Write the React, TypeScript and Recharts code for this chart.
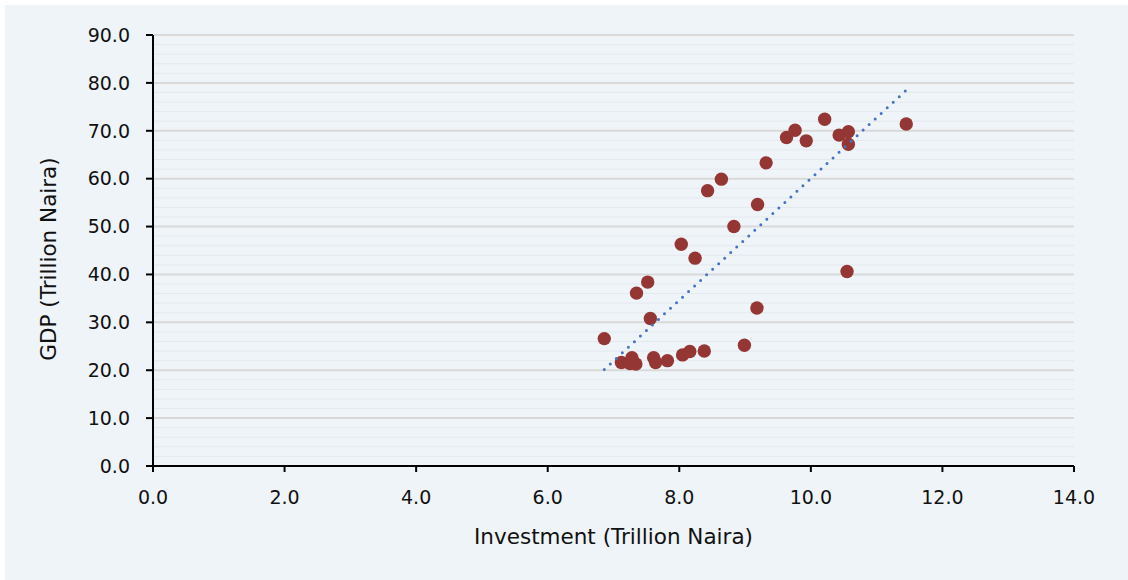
import React from 'react';
import { ScatterChart, Scatter, XAxis, YAxis, CartesianGrid } from 'recharts';

// Investment (Trillion Naira)
const investment = [
  6.86, 7.12, 7.28, 7.25, 7.34, 7.35, 7.52, 7.56, 7.61, 7.64, 7.82, 8.05, 8.16, 8.38, 8.03, 8.24,
  8.43, 8.64, 8.83, 8.99, 9.18, 9.19, 9.32, 9.63, 9.76, 9.93, 10.21, 10.43, 10.57, 10.57, 10.55, 11.45,
];
// GDP (Trillion Naira)
const gdp = [
  26.6, 21.6, 22.6, 21.4, 21.3, 36.1, 38.4, 30.8, 22.6, 21.6, 22.0, 23.2, 23.9, 24.0, 46.3, 43.4,
  57.5, 59.9, 50.0, 25.2, 33.0, 54.6, 63.3, 68.6, 70.1, 67.9, 72.4, 69.1, 69.8, 67.2, 40.6, 71.4,
];

const xTicks = [0, 2, 4, 6, 8, 10, 12, 14];
const yTicks = [0, 10, 20, 30, 40, 50, 60, 70, 80, 90];
const yMajorGrid = [10, 20, 30, 40, 50, 60, 70, 80, 90];
const yMinorGrid = [
  2, 4, 6, 8, 12, 14, 16, 18, 22, 24, 26, 28, 32, 34, 36, 38, 42, 44, 46, 48,
  52, 54, 56, 58, 62, 64, 66, 68, 72, 74, 76, 78, 82, 84, 86, 88,
];

const points = investment.map((x, i) => ({ x, y: gdp[i] }));

// Linear (least squares) trendline, as in the source spreadsheet
const n = points.length;
const mx = investment.reduce((a, b) => a + b, 0) / n;
const my = gdp.reduce((a, b) => a + b, 0) / n;
const sxy = points.reduce((a, p) => a + (p.x - mx) * (p.y - my), 0);
const sxx = points.reduce((a, p) => a + (p.x - mx) * (p.x - mx), 0);
const slope = sxy / sxx;
const intercept = my - slope * mx;
const minX = Math.min(...investment);
const maxX = Math.max(...investment);
const trend = [
  { x: minX, y: intercept + slope * minX },
  { x: maxX, y: intercept + slope * maxX },
];

const FONT = '"DejaVu Sans", "Open Sans", sans-serif';
const BG = '#EFF4F9';

const Dot = (props: any) => (
  <circle cx={props.cx} cy={props.cy} r={6.7} fill="#943634" />
);
const NoDot = () => <g />;

const YTitle = () => (
  <text
    x={43}
    y={254}
    transform="rotate(-90, 43, 254)"
    textAnchor="middle"
    dominantBaseline="central"
    fontSize={21.5}
    fill="#111"
    fontFamily={FONT}
  >
    GDP (Trillion Naira)
  </text>
);

export default function App() {
  return (
    <div
      style={{
        position: 'absolute',
        left: 5,
        top: 5,
        width: 1123,
        height: 575,
        background: BG,
        fontFamily: FONT,
      }}
    >
      <ScatterChart
        width={1123}
        height={575}
        margin={{ top: 30, right: 54, bottom: 0, left: 0 }}
        style={{ fontFamily: FONT }}
      >
        <CartesianGrid
          vertical={false}
          horizontalValues={yMinorGrid}
          stroke="#E4E9EF"
          strokeWidth={1}
        />
        <CartesianGrid
          vertical={false}
          horizontalValues={yMajorGrid}
          stroke="#D9D9D9"
          strokeWidth={2}
        />
        <XAxis
          type="number"
          dataKey="x"
          domain={[0, 14]}
          ticks={xTicks}
          interval={0}
          allowDataOverflow
          tickFormatter={(v: number) => v.toFixed(1)}
          height={114}
          tickSize={6}
          tickMargin={19}
          axisLine={{ stroke: '#000', strokeWidth: 2 }}
          tickLine={{ stroke: '#000', strokeWidth: 2 }}
          tick={{ fill: '#111', fontSize: 19 }}
          label={{
            value: 'Investment (Trillion Naira)',
            position: 'insideBottom',
            offset: 36,
            fill: '#111',
            fontSize: 21.5,
          }}
        />
        <YAxis
          type="number"
          dataKey="y"
          domain={[0, 90]}
          ticks={yTicks}
          interval={0}
          allowDataOverflow
          tickFormatter={(v: number) => v.toFixed(1)}
          width={148}
          tickSize={7}
          tickMargin={16}
          axisLine={{ stroke: '#000', strokeWidth: 2 }}
          tickLine={{ stroke: '#000', strokeWidth: 2 }}
          tick={{ fill: '#111', fontSize: 19 }}
          label={<YTitle />}
        />
        <Scatter data={points} shape={Dot} isAnimationActive={false} />
        <Scatter
          data={trend}
          shape={NoDot}
          line={{
            stroke: '#4472C4',
            strokeWidth: 3,
            strokeDasharray: '0 8.2',
            strokeLinecap: 'round',
          }}
          isAnimationActive={false}
        />
      </ScatterChart>
    </div>
  );
}
